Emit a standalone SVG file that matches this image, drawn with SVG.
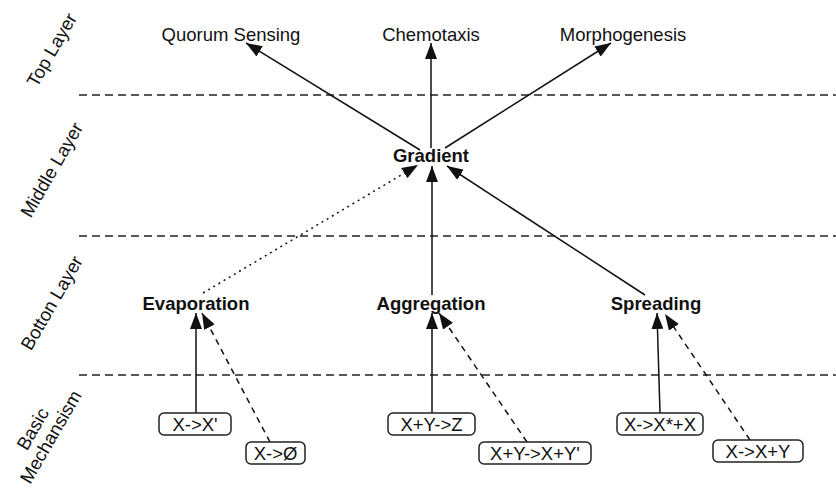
<svg xmlns="http://www.w3.org/2000/svg" width="836" height="488" viewBox="0 0 836 488">
<style>
text{font-family:"Liberation Sans",Arial,sans-serif;font-size:18.5px;fill:#111}
.b{font-weight:bold}
.layer{stroke:#222;stroke-width:1.5;stroke-dasharray:8,5;fill:none}
.c{stroke:#111;stroke-width:1.5;fill:none;marker-end:url(#ah)}
.d{stroke-dasharray:6,5}
.dot{stroke-dasharray:2,4}
.box{fill:#fff;stroke:#222;stroke-width:1.5}
</style>
<defs>
<marker id="ah" markerUnits="userSpaceOnUse" markerWidth="16" markerHeight="12" refX="16" refY="6" orient="auto" viewBox="0 0 16 12">
<path d="M0,0 L16,6 L0,12 z" fill="#111"/>
</marker>
</defs>
<g id="layers">
<line class="layer" x1="79" y1="95" x2="836" y2="95"/>
<line class="layer" x1="79" y1="236" x2="836" y2="236"/>
<line class="layer" x1="79" y1="375" x2="836" y2="375"/>
<text transform="translate(52,50) rotate(-60)" text-anchor="middle" dy="6">Top Layer</text>
<text transform="translate(52,170) rotate(-60)" text-anchor="middle" dy="6">Middle Layer</text>
<text transform="translate(52,303) rotate(-60)" text-anchor="middle" dy="6">Botton Layer</text>
<text transform="translate(33,429) rotate(-60)" text-anchor="middle" dy="6">Basic</text>
<text transform="translate(51,437) rotate(-60)" text-anchor="middle" dy="6">Mechansism</text>
</g>
<g id="connectors">
<line class="c" x1="420" y1="150" x2="246" y2="43"/>
<line class="c" x1="431" y1="148" x2="431" y2="43"/>
<line class="c" x1="445" y1="148" x2="611" y2="43"/>
<line class="c" x1="432" y1="295" x2="432" y2="166"/>
<line class="c" x1="645" y1="295" x2="447" y2="166"/>
<line class="c dot" x1="203" y1="293" x2="418" y2="165"/>
<line class="c" x1="196" y1="413" x2="196" y2="313"/>
<line class="c d" x1="270" y1="442" x2="202" y2="313"/>
<line class="c" x1="432" y1="413" x2="432" y2="313"/>
<line class="c d" x1="527" y1="442" x2="439" y2="313"/>
<line class="c" x1="660" y1="413" x2="657" y2="313"/>
<line class="c d" x1="750" y1="440" x2="665" y2="314"/>
</g>
<g id="quorum"><text x="231" y="41" text-anchor="middle">Quorum Sensing</text></g>
<g id="chemotaxis"><text x="431" y="41" text-anchor="middle">Chemotaxis</text></g>
<g id="morphogenesis"><text x="623" y="41" text-anchor="middle">Morphogenesis</text></g>
<g id="gradient"><text class="b" x="431" y="162" text-anchor="middle">Gradient</text></g>
<g id="evaporation"><text class="b" x="196" y="310" text-anchor="middle">Evaporation</text></g>
<g id="aggregation"><text class="b" x="431" y="310" text-anchor="middle">Aggregation</text></g>
<g id="spreading"><text class="b" x="656" y="310" text-anchor="middle">Spreading</text></g>
<g id="b1"><rect class="box" x="159" y="413" width="72" height="22" rx="5"/><text x="195" y="431" text-anchor="middle">X-&gt;X'</text></g>
<g id="b2"><rect class="box" x="246" y="442" width="59" height="22" rx="5"/><text x="275.5" y="460" text-anchor="middle">X-&gt;Ø</text></g>
<g id="b3"><rect class="box" x="388" y="413" width="87" height="22" rx="5"/><text x="431.5" y="431" text-anchor="middle">X+Y-&gt;Z</text></g>
<g id="b4"><rect class="box" x="479" y="442" width="112" height="22" rx="5"/><text x="535" y="460" text-anchor="middle">X+Y-&gt;X+Y'</text></g>
<g id="b5"><rect class="box" x="617" y="413" width="86" height="22" rx="5"/><text x="660" y="431" text-anchor="middle">X-&gt;X*+X</text></g>
<g id="b6"><rect class="box" x="713" y="440" width="90" height="22" rx="5"/><text x="758" y="458" text-anchor="middle">X-&gt;X+Y</text></g>
</svg>
